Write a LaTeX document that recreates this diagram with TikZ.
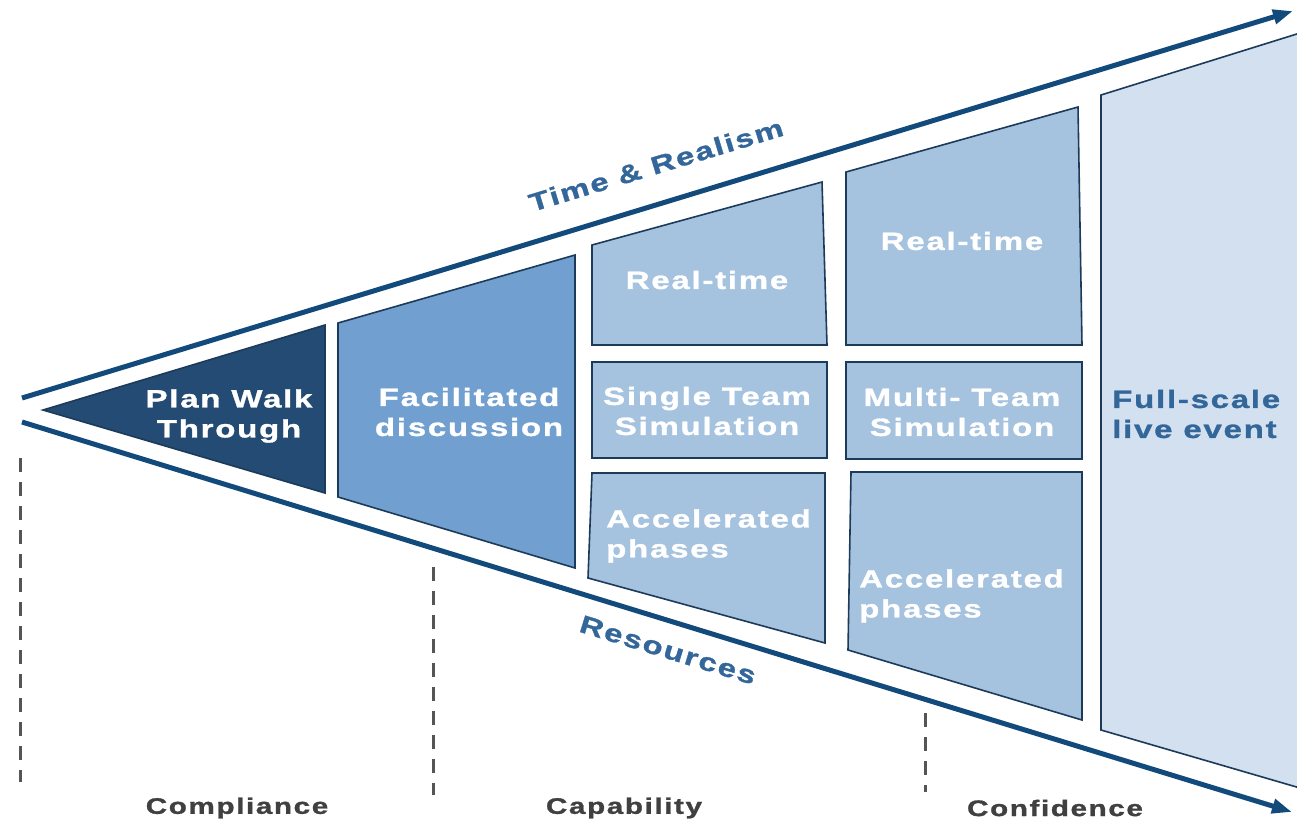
\documentclass[tikz,border=0pt]{standalone}
\usepackage{fontspec}
\setmainfont{Liberation Sans}
\newfontfamily\dfont[FakeStretch=1.32,LetterSpace=7,BoldFont={Liberation Sans Bold},BoldFeatures={FakeBold=1.2}]{Liberation Sans}
\usetikzlibrary{arrows.meta}
\definecolor{axisblue}{HTML}{134A7C}
\definecolor{planfill}{HTML}{244B73}
\definecolor{facfill}{HTML}{709FD0}
\definecolor{midfill}{HTML}{A5C2DF}
\definecolor{fullfill}{HTML}{D2E0EF}
\definecolor{edgecol}{HTML}{1C3A5A}
\definecolor{labblue}{HTML}{336699}
\definecolor{greytxt}{HTML}{404040}
\definecolor{dashgrey}{HTML}{555555}
\tikzset{
  axis/.style={draw=axisblue, line width=5pt, -{Triangle[length=20pt,width=14pt]}},
  block/.style={draw=edgecol, line width=1.6pt},
  boxtext/.style={inner sep=0pt, text=white, font=\dfont\bfseries\fontsize{25}{30}\selectfont},
  axtext/.style={inner sep=0pt, text=labblue, font=\dfont\bfseries\fontsize{25}{30}\selectfont},
  bottomtext/.style={inner sep=0pt, text=greytxt, font=\dfont\bfseries\fontsize{22.5}{27}\selectfont},
  divider/.style={draw=dashgrey, line width=3pt, dash pattern=on 14pt off 10pt},
}
\begin{document}
\begin{tikzpicture}[x=1pt,y=-1pt]
\useasboundingbox (0,0) rectangle (1297,823);
% axes
\coordinate (ustart) at (22,398);
\coordinate (uend) at (1293,11);
\coordinate (lstart) at (22,422);
\coordinate (lend) at (1292,812);
\draw[axis] (ustart) -- (uend);
\draw[axis] (lstart) -- (lend);
% dashed dividers
\coordinate (d1a) at (20,458); \coordinate (d1b) at (20,782);
\coordinate (d2a) at (433,567); \coordinate (d2b) at (433,795);
\coordinate (d3a) at (925,713); \coordinate (d3b) at (925,792);
\draw[divider] (d1a) -- (d1b);
\draw[divider] (d2a) -- (d2b);
\draw[divider] (d3a) -- (d3b);
% shapes
\draw[block, fill=planfill] (43,410) -- (325,325) -- (325,493) -- cycle;
\draw[block, fill=facfill] (338,323) -- (575,255) -- (575,568) -- (338,497) -- cycle;
\draw[block, fill=midfill] (592,245) -- (822,182) -- (827,345) -- (592,345) -- cycle;
\draw[block, fill=midfill] (592,362) rectangle (827,458);
\draw[block, fill=midfill] (592,473) -- (825,473) -- (825,643) -- (588,578) -- cycle;
\draw[block, fill=midfill] (846,172) -- (1078,107) -- (1082,345) -- (846,345) -- cycle;
\draw[block, fill=midfill] (846,362) rectangle (1082,459);
\draw[block, fill=midfill] (851,472) -- (1082,472) -- (1082,720) -- (848,650) -- cycle;
\draw[block, fill=fullfill] (1101,95) -- (1300,33) -- (1300,788) -- (1101,730) -- cycle;
% texts
\node[boxtext, align=center] (plan) at (229,416) {Plan Walk\\Through};
\node[boxtext, align=center] (fac) at (469,412) {Facilitated\\discussion};
\node[boxtext] (rt1) at (707,280) {Real-time};
\node[boxtext, align=center] (st) at (707,411) {Single Team\\Simulation};
\node[boxtext, align=left, anchor=west] (acc1) at (606,536) {Accelerated\\phases};
\node[boxtext] (rt2) at (962,241) {Real-time};
\node[boxtext, align=center] (mt) at (962,412) {Multi- Team\\Simulation};
\node[boxtext, align=left, anchor=west] (acc2) at (859,596) {Accelerated\\phases};
\node[axtext, align=left, anchor=west] (full) at (1112,414) {Full-scale\\live event};
\node[axtext, rotate=16.9] (time) at (656,165) {Time \& Realism};
\node[axtext, rotate=-17] (res) at (668,650) {Resources};
\node[bottomtext] (comp) at (237,808) {Compliance};
\node[bottomtext] (capa) at (624,808) {Capability};
\node[bottomtext] (conf) at (1055,808) {Confidence};
\end{tikzpicture}
\end{document}
